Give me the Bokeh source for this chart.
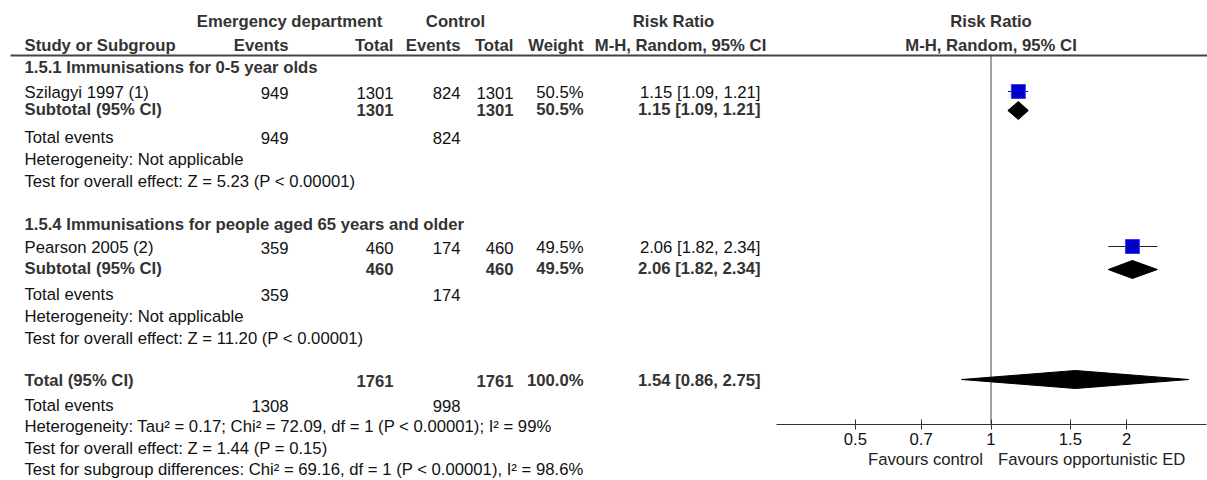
import math
from bokeh.plotting import figure
from bokeh.models import Range1d, FixedTicker, LogScale, LogAxis
from bokeh.core.properties import value
from bokeh.embed import file_html
from bokeh.resources import INLINE

# ---------------- data ----------------
subgroups = ["1.5.1 Immunisations for 0-5 year olds",
             "1.5.4 Immunisations for people aged 65 years and older"]
studies = ["Szilagyi 1997 (1)", "Pearson 2005 (2)"]
ed_events = [949, 359]
ed_total = [1301, 460]
ctl_events = [824, 174]
ctl_total = [1301, 460]
weights = [50.5, 49.5]
rr = [1.15, 2.06]
rr_lo = [1.09, 1.82]
rr_hi = [1.21, 2.34]
sub_rr = [1.15, 2.06]
sub_lo = [1.09, 1.82]
sub_hi = [1.21, 2.34]
sub_het = ["Heterogeneity: Not applicable", "Heterogeneity: Not applicable"]
sub_test = ["Test for overall effect: Z = 5.23 (P < 0.00001)",
            "Test for overall effect: Z = 11.20 (P < 0.00001)"]
total_ed_events = 1308
total_ctl_events = 998
total_ed_n = 1761
total_ctl_n = 1761
total_weight = 100.0
total_rr = [1.54]
total_lo = [0.86]
total_hi = [2.75]
total_het = "Heterogeneity: Tau\u00b2 = 0.17; Chi\u00b2 = 72.09, df = 1 (P < 0.00001); I\u00b2 = 99%"
total_test = "Test for overall effect: Z = 1.44 (P = 0.15)"
subgroup_diff = "Test for subgroup differences: Chi\u00b2 = 69.16, df = 1 (P < 0.00001), I\u00b2 = 98.6%"
axis_ticks = [0.5, 0.7, 1, 1.5, 2]
axis_tick_labels = ["0.5", "0.7", "1", "1.5", "2"]
axis_bounds = [1.0 / 3.0, 3.0]
favours_left = "Favours control"
favours_right = "Favours opportunistic ED"

# ---------------- layout ----------------
FONT = value("Liberation Sans")
FS = "16.7px"
TXT = "#111111"
BOLD = "#333333"
W = 1207
H = 480
X0, X1 = 0, W
Y0, Y1 = 0, H
AXIS_Y = 424
FOREST_LEFT = 775.5
PX_PER_LN = 430 / math.log(9)
LOG_LO = math.exp(math.log(axis_bounds[0]) - (FOREST_LEFT - X0) / PX_PER_LN)
LOG_HI = math.exp(math.log(axis_bounds[0]) + (X1 - FOREST_LEFT) / PX_PER_LN)

# column right edges (px)
C_STUDY = 24
C_EDEV = 288
C_EDN = 393
C_CEV = 460
C_CN = 513
C_W = 583
C_RR = 760

# row positions (px)
Y_H1 = 21
Y_H2 = 45
Y_RULE = 55
Y_GROUP = [67, 224]
Y_STUDY = [92, 247]
Y_SUB = [109, 268]
Y_TE = [137, 294]
Y_HET = [159, 316]
Y_TEST = [181, 338]
Y_TOTAL = 380
Y_TTE = 405
Y_THET = 426
Y_TTEST = 448
Y_SGD = 469
Y_FAV = 459
DIAMOND_HALF = 9
DIAMOND_DY = 1

p = figure(width=W, height=H, x_range=Range1d(X0, X1), y_range=Range1d(Y1, Y0),
           output_backend="svg", toolbar_location=None,
           x_axis_location=None, y_axis_location=None,
           min_border=0, min_border_left=0, min_border_right=0,
           min_border_top=0, min_border_bottom=0)
p.outline_line_color = None
p.xgrid.visible = False
p.ygrid.visible = False
p.background_fill_color = "white"
p.border_fill_color = "white"
p.extra_x_ranges = {"rr": Range1d(LOG_LO, LOG_HI)}
p.extra_x_scales = {"rr": LogScale()}

groups = {}


def add(x, y, t, align="left", bold=False):
    key = (align, bold)
    g = groups.setdefault(key, dict(x=[], y=[], t=[]))
    g["x"].append(x)
    g["y"].append(y)
    g["t"].append(t)


def fmt_rr(a, b, c):
    return f"{a:.2f} [{b:.2f}, {c:.2f}]"


# header
add(289, Y_H1, "Emergency department", "center", True)
add(455, Y_H1, "Control", "center", True)
add(673, Y_H1, "Risk Ratio", "center", True)
add(C_STUDY, Y_H2, "Study or Subgroup", "left", True)
add(C_EDEV, Y_H2, "Events", "right", True)
add(C_EDN, Y_H2, "Total", "right", True)
add(C_CEV, Y_H2, "Events", "right", True)
add(C_CN, Y_H2, "Total", "right", True)
add(C_W, Y_H2, "Weight", "right", True)
add(680, Y_H2, "M-H, Random, 95% CI", "center", True)

for i in range(len(subgroups)):
    add(C_STUDY, Y_GROUP[i], subgroups[i], "left", True)
    add(C_STUDY, Y_STUDY[i], studies[i])
    add(C_EDEV, Y_STUDY[i], str(ed_events[i]), "right")
    add(C_EDN, Y_STUDY[i], str(ed_total[i]), "right")
    add(C_CEV, Y_STUDY[i], str(ctl_events[i]), "right")
    add(C_CN, Y_STUDY[i], str(ctl_total[i]), "right")
    add(C_W, Y_STUDY[i], f"{weights[i]:.1f}%", "right")
    add(C_RR, Y_STUDY[i], fmt_rr(rr[i], rr_lo[i], rr_hi[i]), "right")
    add(C_STUDY, Y_SUB[i], "Subtotal (95% CI)", "left", True)
    add(C_EDN, Y_SUB[i], str(ed_total[i]), "right", True)
    add(C_CN, Y_SUB[i], str(ctl_total[i]), "right", True)
    add(C_W, Y_SUB[i], f"{weights[i]:.1f}%", "right", True)
    add(C_RR, Y_SUB[i], fmt_rr(sub_rr[i], sub_lo[i], sub_hi[i]), "right", True)
    add(C_STUDY, Y_TE[i], "Total events")
    add(C_EDEV, Y_TE[i], str(ed_events[i]), "right")
    add(C_CEV, Y_TE[i], str(ctl_events[i]), "right")
    add(C_STUDY, Y_HET[i], sub_het[i])
    add(C_STUDY, Y_TEST[i], sub_test[i])

add(C_STUDY, Y_TOTAL, "Total (95% CI)", "left", True)
add(C_EDN, Y_TOTAL, str(total_ed_n), "right", True)
add(C_CN, Y_TOTAL, str(total_ctl_n), "right", True)
add(C_W, Y_TOTAL, f"{total_weight:.1f}%", "right", True)
add(C_RR, Y_TOTAL, fmt_rr(total_rr[0], total_lo[0], total_hi[0]), "right", True)
add(C_STUDY, Y_TTE, "Total events")
add(C_EDEV, Y_TTE, str(total_ed_events), "right")
add(C_CEV, Y_TTE, str(total_ctl_events), "right")
add(C_STUDY, Y_THET, total_het)
add(C_STUDY, Y_TTEST, total_test)
add(C_STUDY, Y_SGD, subgroup_diff)

for (align, bold), g in groups.items():
    p.text(x=g["x"], y=g["y"], text=g["t"], text_align=align,
           text_baseline="middle", text_font=FONT, text_font_size=FS,
           text_font_style="bold" if bold else "normal",
           text_color=BOLD if bold else TXT)

# header rule
p.segment(x0=[10], x1=[X1], y0=[Y_RULE], y1=[Y_RULE],
          line_color="#444444", line_width=2)

# forest headers
p.text(x=[1, 1], y=[Y_H1, Y_H2], text=["Risk Ratio", "M-H, Random, 95% CI"],
       x_range_name="rr", text_align="center", text_baseline="middle",
       text_font=FONT, text_font_size=FS, text_font_style="bold", text_color=BOLD)

# line of no effect
p.segment(x0=[1], x1=[1], y0=[Y_RULE], y1=[AXIS_Y], x_range_name="rr",
          line_color="#444444", line_width=1)

# study CIs and squares
p.segment(x0=rr_lo, x1=rr_hi, y0=[y - 1 for y in Y_STUDY], y1=[y - 1 for y in Y_STUDY],
          x_range_name="rr", line_color="#222222", line_width=1.2)
p.scatter(x=rr, y=[y - 1 for y in Y_STUDY], x_range_name="rr", marker="square",
          size=14, fill_color="#0000c8", line_color="#3a3aff", line_width=1)

# diamonds
d_est = sub_rr + total_rr
d_lo = sub_lo + total_lo
d_hi = sub_hi + total_hi
d_y = [y + DIAMOND_DY for y in Y_SUB] + [Y_TOTAL - 1]
xs = [[a, b, c, b] for a, b, c in zip(d_lo, d_est, d_hi)]
ys = [[y, y - DIAMOND_HALF, y, y + DIAMOND_HALF] for y in d_y]
p.patches(xs=xs, ys=ys, x_range_name="rr", fill_color="black",
          line_color="black", line_width=1)

# axis
ax = LogAxis(x_range_name="rr", fixed_location=AXIS_Y,
             bounds=(axis_bounds[0], axis_bounds[1]))
ax.ticker = FixedTicker(ticks=axis_ticks)
ax.major_label_overrides = {t: l for t, l in zip(axis_ticks, axis_tick_labels)}
ax.minor_tick_line_color = None
ax.major_tick_in = 5
ax.major_tick_out = 5
ax.axis_line_color = "#333333"
ax.major_tick_line_color = "#333333"
ax.major_label_text_font = "Liberation Sans"
ax.major_label_text_font_size = FS
ax.major_label_text_color = TXT
ax.major_label_standoff = 3
p.add_layout(ax, "below")

# favours labels
p.text(x=[1], y=[Y_FAV], text=[favours_left], x_range_name="rr", x_offset=-8,
       text_align="right", text_baseline="middle", text_font=FONT,
       text_font_size=FS, text_color="#222222")
p.text(x=[1], y=[Y_FAV], text=[favours_right], x_range_name="rr", x_offset=7,
       text_align="left", text_baseline="middle", text_font=FONT,
       text_font_size=FS, text_color="#222222")

open("out.html", "w").write(file_html(p, INLINE))
